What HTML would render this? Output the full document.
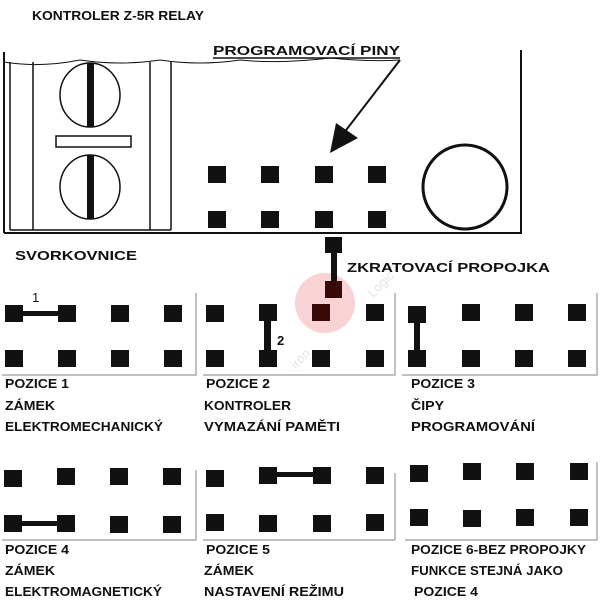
<!DOCTYPE html>
<html><head><meta charset="utf-8"><style>
html,body{margin:0;padding:0;background:#fff;}
svg{display:block}
text{font-family:"Liberation Sans","DejaVu Sans",sans-serif;font-weight:bold;fill:#111;font-size:13px}
</style></head><body>
<svg width="600" height="600" viewBox="0 0 600 600" xmlns="http://www.w3.org/2000/svg">
<!-- watermark -->
<circle cx="325" cy="303" r="30" fill="#f8d2d4"/>
<text x="262" y="352" font-size="30" style="fill:#e4e4e4;font-weight:normal" transform="rotate(-45 300 320)">iron</text>
<text x="355" y="285" font-size="32" style="fill:#e4e4e4;font-weight:normal" transform="rotate(-45 380 270)">Logic</text>

<text x="32" y="20" font-size="15" textLength="172" lengthAdjust="spacingAndGlyphs">KONTROLER Z-5R RELAY</text>
<text x="213" y="55" font-size="15" textLength="187" lengthAdjust="spacingAndGlyphs">PROGRAMOVACÍ PINY</text>
<line x1="213" y1="58" x2="400" y2="58" stroke="#111" stroke-width="1.5"/>
<text x="15" y="260" font-size="15" textLength="122" lengthAdjust="spacingAndGlyphs">SVORKOVNICE</text>
<text x="347" y="272" font-size="15" textLength="203" lengthAdjust="spacingAndGlyphs">ZKRATOVACÍ PROPOJKA</text>

<!-- main box -->
<g stroke="#111" fill="none">
<path d="M4 62 Q40 68 80 60 Q120 66 160 60 Q200 66 240 60 Q280 64 330 58 Q370 62 400 60" stroke-width="1"/>
<line x1="4" y1="52" x2="4" y2="233" stroke-width="2"/>
<line x1="4" y1="233" x2="522" y2="233" stroke-width="2"/>
<line x1="521" y1="50" x2="521" y2="233" stroke-width="2"/>
<line x1="10" y1="62" x2="10" y2="230" stroke-width="1.5"/>
<line x1="33" y1="62" x2="33" y2="230" stroke-width="1.5"/>
<line x1="150" y1="62" x2="150" y2="230" stroke-width="1.5"/>
<line x1="171" y1="62" x2="171" y2="230" stroke-width="1.5"/>
<line x1="10" y1="230" x2="171" y2="230" stroke-width="1.5"/>
<ellipse cx="90" cy="95" rx="30" ry="32" stroke-width="1.5"/>
<ellipse cx="90" cy="187" rx="30" ry="32" stroke-width="1.5"/>
<rect x="56" y="136" width="75" height="11" stroke-width="1.5"/>
<circle cx="465" cy="187" r="42" stroke-width="3"/>
<line x1="400" y1="60" x2="340" y2="138" stroke-width="2"/>
</g>
<rect x="87" y="63" width="7" height="64" fill="#111"/>
<rect x="87" y="155" width="7" height="64" fill="#111"/>
<polygon points="330,153 336,123 358,138" fill="#111"/>
<g fill="#111">
<rect x="208" y="166" width="18" height="17"/><rect x="261" y="166" width="18" height="17"/><rect x="315" y="166" width="18" height="17"/><rect x="368" y="166" width="18" height="17"/>
<rect x="208" y="211" width="18" height="17"/><rect x="261" y="211" width="18" height="17"/><rect x="315" y="211" width="18" height="17"/><rect x="368" y="211" width="18" height="17"/>
<rect x="325" y="237" width="17" height="16"/><rect x="331" y="250" width="6" height="34"/><rect x="325" y="281" width="17" height="17" fill="#3a0a0a"/>
</g>

<!-- panel frames -->
<g stroke="#999" stroke-width="1.2" fill="none">
<polyline points="196,293 196,375 2,375"/>
<polyline points="395,293 395,375 203,375"/>
<polyline points="597,293 597,375 402,375"/>
<polyline points="196,470 196,540 2,540"/>
<polyline points="395,473 395,540 203,540"/>
<polyline points="597,462 597,540 405,540"/>
</g>
<g fill="#111">
<rect x="5" y="305" width="18" height="17"/><rect x="58" y="305" width="18" height="17"/><rect x="111" y="305" width="18" height="17"/><rect x="164" y="305" width="18" height="17"/>
<rect x="5" y="350" width="18" height="17"/><rect x="58" y="350" width="18" height="17"/><rect x="111" y="350" width="18" height="17"/><rect x="164" y="350" width="18" height="17"/>
<rect x="20" y="311" width="40" height="5"/>
<rect x="206" y="305" width="18" height="17"/><rect x="259" y="304" width="18" height="17"/><rect x="312" y="304" width="18" height="17" fill="#3a0a0a"/><rect x="366" y="304" width="18" height="17"/>
<rect x="206" y="350" width="18" height="17"/><rect x="259" y="350" width="18" height="17"/><rect x="312" y="350" width="18" height="17"/><rect x="366" y="350" width="18" height="17"/>
<rect x="264" y="318" width="7" height="35"/>
<rect x="408" y="306" width="18" height="17"/><rect x="462" y="304" width="18" height="17"/><rect x="515" y="304" width="18" height="17"/><rect x="568" y="304" width="18" height="17"/>
<rect x="408" y="350" width="18" height="17"/><rect x="462" y="350" width="18" height="17"/><rect x="515" y="350" width="18" height="17"/><rect x="568" y="350" width="18" height="17"/>
<rect x="414" y="320" width="6" height="33"/>
<rect x="4" y="470" width="18" height="17"/><rect x="57" y="468" width="18" height="17"/><rect x="110" y="468" width="18" height="17"/><rect x="163" y="468" width="18" height="17"/>
<rect x="4" y="515" width="18" height="17"/><rect x="57" y="515" width="18" height="17"/><rect x="110" y="516" width="18" height="17"/><rect x="163" y="516" width="18" height="17"/>
<rect x="20" y="521" width="40" height="5"/>
<rect x="206" y="470" width="18" height="17"/><rect x="259" y="467" width="18" height="17"/><rect x="313" y="467" width="18" height="17"/><rect x="366" y="467" width="18" height="17"/>
<rect x="206" y="514" width="18" height="17"/><rect x="259" y="515" width="18" height="17"/><rect x="313" y="515" width="18" height="17"/><rect x="366" y="514" width="18" height="17"/>
<rect x="275" y="472" width="40" height="5"/>
<rect x="410" y="465" width="18" height="17"/><rect x="463" y="463" width="18" height="17"/><rect x="516" y="463" width="18" height="17"/><rect x="570" y="463" width="18" height="17"/>
<rect x="410" y="509" width="18" height="17"/><rect x="463" y="510" width="18" height="17"/><rect x="516" y="509" width="18" height="17"/><rect x="570" y="509" width="18" height="17"/>
</g>
<text x="32" y="302" font-size="15" style="font-weight:normal">1</text>
<text x="277" y="345" font-size="15">2</text>

<text x="5" y="388" textLength="64" lengthAdjust="spacingAndGlyphs">POZICE 1</text>
<text x="5" y="410" textLength="50" lengthAdjust="spacingAndGlyphs">ZÁMEK</text>
<text x="5" y="431" textLength="158" lengthAdjust="spacingAndGlyphs">ELEKTROMECHANICKÝ</text>
<text x="206" y="388" textLength="64" lengthAdjust="spacingAndGlyphs">POZICE 2</text>
<text x="204" y="410" textLength="87" lengthAdjust="spacingAndGlyphs">KONTROLER</text>
<text x="204" y="431" textLength="136" lengthAdjust="spacingAndGlyphs">VYMAZÁNÍ PAMĚTI</text>
<text x="411" y="388" textLength="64" lengthAdjust="spacingAndGlyphs">POZICE 3</text>
<text x="411" y="410" textLength="33" lengthAdjust="spacingAndGlyphs">ČIPY</text>
<text x="411" y="431" textLength="124" lengthAdjust="spacingAndGlyphs">PROGRAMOVÁNÍ</text>

<text x="5" y="554" textLength="64" lengthAdjust="spacingAndGlyphs">POZICE 4</text>
<text x="5" y="575" textLength="50" lengthAdjust="spacingAndGlyphs">ZÁMEK</text>
<text x="5" y="596" textLength="157" lengthAdjust="spacingAndGlyphs">ELEKTROMAGNETICKÝ</text>
<text x="206" y="554" textLength="64" lengthAdjust="spacingAndGlyphs">POZICE 5</text>
<text x="204" y="575" textLength="50" lengthAdjust="spacingAndGlyphs">ZÁMEK</text>
<text x="204" y="596" textLength="140" lengthAdjust="spacingAndGlyphs">NASTAVENÍ REŽIMU</text>
<text x="411" y="554" textLength="175" lengthAdjust="spacingAndGlyphs">POZICE 6-BEZ PROPOJKY</text>
<text x="411" y="575" textLength="152" lengthAdjust="spacingAndGlyphs">FUNKCE STEJNÁ JAKO</text>
<text x="414" y="596" textLength="64" lengthAdjust="spacingAndGlyphs">POZICE 4</text>
</svg>
</body></html>
